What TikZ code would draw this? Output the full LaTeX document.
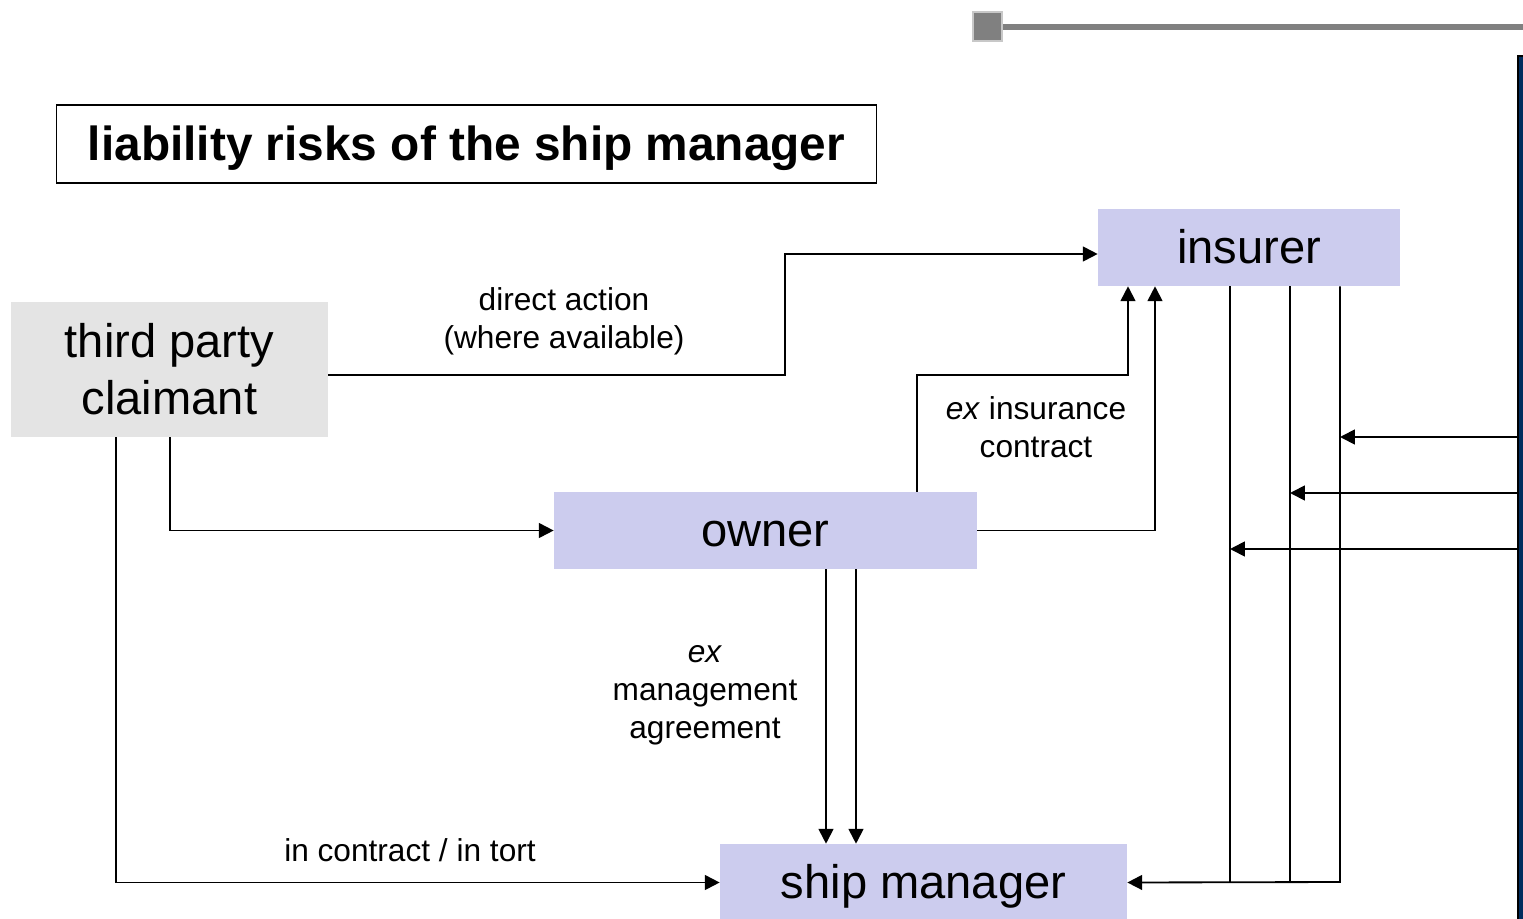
\documentclass[tikz,border=0pt]{standalone}
\usepackage{fontspec}
\setmainfont{Liberation Sans}
\usepackage{xcolor}
\usepackage{tikz}
\usetikzlibrary{positioning,arrows.meta}
\definecolor{boxlilac}{RGB}{204,204,238}
\definecolor{boxgray}{RGB}{228,228,228}
\definecolor{barnavy}{RGB}{0,45,95}
\definecolor{ruleg}{RGB}{128,128,128}
\definecolor{rulelight}{RGB}{200,200,200}

\tikzset{
    party/.style={fill=boxlilac, inner sep=0pt, align=center,
        font=\fontsize{33.5}{40.5}\selectfont},
    oneline/.style={text height=30.3pt, text depth=7.1pt},
    link/.style={draw=black, line width=1.3pt,
        -{Triangle[length=10.5pt,width=10.5pt]}},
    plain/.style={draw=black, line width=1.3pt},
    lbl/.style={align=center, inner sep=0pt,
        font=\fontsize{22.5}{27}\selectfont}
}

\begin{document}
\begin{tikzpicture}[x=0.025cm, y=-0.025cm]
    \useasboundingbox (0,0) rectangle (1523,919);

    % header rule
    \draw[ruleg, line width=3.8pt] (1001,27) -- (1530,27);
    \draw[rulelight, fill=ruleg, line width=1.2pt] (973,12) rectangle (1002,41);

    % side bar
    \node[
        draw=black,
        fill=barnavy,
        line width=1.4pt,
        inner sep=0pt,
        minimum width=0.3cm,
        minimum height=22cm,
        anchor=north west
    ] (bar) at (1517,55) {};

    % title
    \node[
        draw=black,
        line width=0.8pt,
        minimum width=20.475cm,
        minimum height=1.95cm,
        text height=30.8pt, text depth=7.2pt,
        font=\fontsize{34}{40}\selectfont\bfseries
    ] (title) at (466.5,144) {liability risks of the ship manager};

    % parties
    \node[party, oneline, minimum width=7.55cm, minimum height=1.925cm] (insurer) at (1249,247.5) {insurer};
    \node[party, fill=boxgray, minimum width=7.925cm, minimum height=3.375cm] (claimant) at (169.5,369.5) {third party\\claimant};
    \node[party, oneline, minimum width=10.575cm, minimum height=1.925cm] (owner) at (765.5,530.5) {owner};
    \node[party, oneline, minimum width=10.175cm, minimum height=1.925cm] (manager) at (923.5,882.5) {ship manager};

    % claimant
    \draw[link] (claimant.east |- 0,375) -| (785,254) -- (insurer.west |- 0,254);
    \draw[link] (170,0 |- claimant.south) |- (owner.west);
    \draw[link] (116,0 |- claimant.south) |- (manager.west);

    % owner
    \draw[link] (917,0 |- owner.north) |- (1128,375) -- (1128,0 |- insurer.south);
    \draw[link] (owner.east) -| (1155,0 |- insurer.south);
    \draw[link] (826,0 |- owner.south) -- (826,0 |- manager.north);
    \draw[link] (856,0 |- owner.south) -- (856,0 |- manager.north);

    % insurer
    \coordinate (ia) at (1230,882);
    \coordinate (ib) at (1290,882);
    \coordinate (ic) at (1340,882);
    \draw[plain] (ia |- insurer.south) -- (ia);
    \draw[plain] (ib |- insurer.south) -- (ib);
    \draw[link] (ic |- insurer.south) -- (ic) -- (manager.east);

    % from the bar
    \draw[link] (bar.west |- 0,437) -- (ic |- 0,437);
    \draw[link] (bar.west |- 0,493) -- (ib |- 0,493);
    \draw[link] (bar.west |- 0,549) -- (ia |- 0,549);

    % labels
    \node[lbl] (lblact) at (564,321) {direct action\\(where available)};
    \node[lbl] (lblins) at (1036,427) {\textit{ex} insurance\\contract};
    \node[lbl] (lblman) at (705,695) {\textit{ex}\\management\\agreement};
    \node[lbl] (lbltort) at (410,850) {in contract / in tort};
\end{tikzpicture}
\end{document}
